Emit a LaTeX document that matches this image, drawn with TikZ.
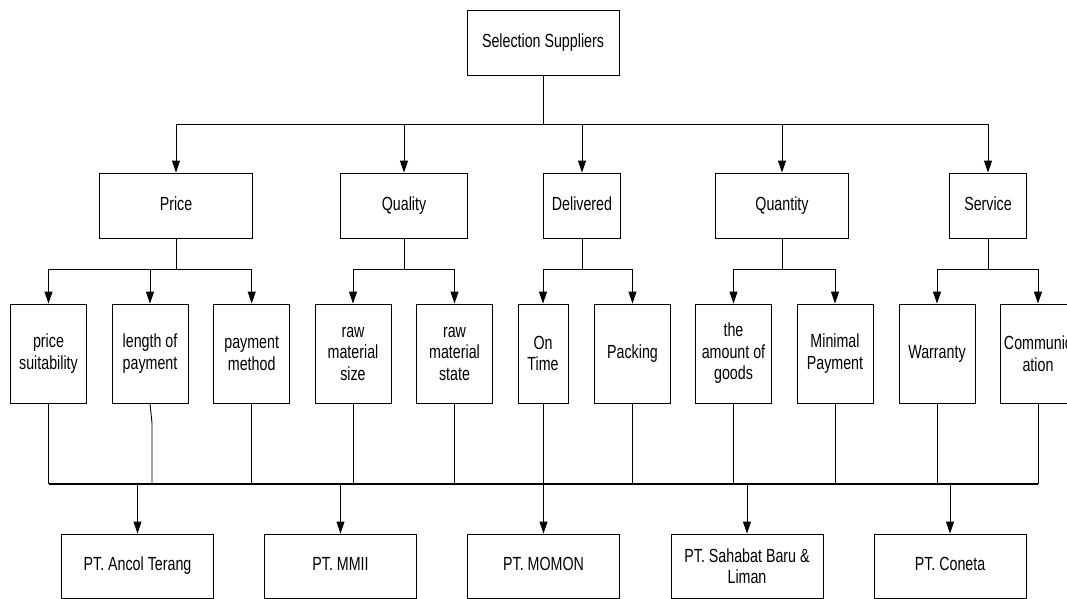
\documentclass[tikz,border=0pt]{standalone}
\usepackage{fontspec}
\setmainfont{Liberation Sans}[FakeStretch=0.75]
\usetikzlibrary{arrows.meta}
\begin{document}
\begin{tikzpicture}[x=1pt,y=-1pt,
  box/.style={draw, line width=0.9pt, rectangle, inner sep=0pt, align=center,
    font=\fontsize{19}{21.5}\selectfont},
  oneline/.style={text height=13.5pt, text depth=4pt},
  crit/.style={box, oneline, minimum height=65},
  sub/.style={box, minimum width=76, minimum height=99},
  supp/.style={box, minimum width=152, minimum height=64},
  conn/.style={line width=0.9pt},
  bus/.style={line width=2pt},
  arr/.style={conn, -{Triangle[width=8pt,length=12pt]}}]
\path[use as bounding box, clip] (0,0) rectangle (1067,599);
\fill[white] (0,0) rectangle (1067,599);
% top
\node[box, oneline, minimum width=152, minimum height=65] (top) at (543,42.5) {Selection Suppliers};
% criteria
\node[crit, minimum width=153] (price) at (176,205.5) {Price};
\node[crit, minimum width=127] (quality) at (404,205.5) {Quality};
\node[crit, minimum width=77] (deliv) at (582,205.5) {Delivered};
\node[crit, minimum width=133] (quant) at (782,205.5) {Quantity};
\node[crit, minimum width=77] (serv) at (988,205.5) {Service};
% sub criteria
\node[sub] (ps) at (48.5,353.5) {price\\suitability};
\node[sub] (lp) at (150,353.5) {length of\\payment};
\node[sub] (pm) at (251.7,353.5) {payment\\method};
\node[sub] (rms) at (353,353.5) {raw\\material\\size};
\node[sub] (rmt) at (454.5,353.5) {raw\\material\\state};
\node[sub, minimum width=50] (ot) at (543,353.5) {On\\Time};
\node[sub, oneline] (pk) at (632.5,353.5) {Packing};
\node[sub] (ag) at (733.5,353.5) {the\\amount of\\goods};
\node[sub] (mp) at (835,353.5) {Minimal\\Payment};
\node[sub, oneline] (wa) at (937,353.5) {Warranty};
\node[sub] (co) at (1038,353.5) {Communic\\ation};
% suppliers
\node[supp, oneline] (s1) at (137.5,566) {PT. Ancol Terang};
\node[supp, oneline] (s2) at (340.5,566) {PT. MMII};
\node[supp, oneline] (s3) at (543.5,566) {PT. MOMON};
\node[supp] (s4) at (747,566) {PT. Sahabat Baru \&\\Liman};
\node[supp, oneline] (s5) at (950,566) {PT. Coneta};
% level coordinates
\coordinate (L1) at (0,124);
\coordinate (L2) at (0,269);
\coordinate (L3) at (0,484);
% top to criteria
\draw[conn] (top.south) -- (top.south |- L1);
\draw[conn] (price.north |- L1) -- (serv.north |- L1);
\foreach \n in {price,quality,deliv,quant,serv}
  \draw[arr] (\n.north |- L1) -- (\n.north);
% criteria to sub criteria
\foreach \c/\a/\b in {price/ps/pm, quality/rms/rmt, deliv/ot/pk, quant/ag/mp, serv/wa/co}{
  \draw[conn] (\c.south) -- (\c.south |- L2);
  \draw[conn] (\a.north |- L2) -- (\b.north |- L2);
}
\foreach \n in {ps,lp,pm,rms,rmt,ot,pk,ag,mp,wa,co}
  \draw[arr] (\n.north |- L2) -- (\n.north);
% sub criteria to bus
\foreach \n in {ps,pm,rms,rmt,ot,pk,ag,mp,wa,co}
  \draw[conn] (\n.south) -- (\n.south |- L3);
\coordinate (lk) at (152,423);
\draw[conn] (lp.south) -- (lk) -- (lk |- L3);
\draw[bus] (ps.south |- L3) -- (co.south |- L3);
% bus to suppliers
\foreach \n in {s1,s2,s3,s4,s5}
  \draw[arr] (\n.north |- L3) -- (\n.north);
\end{tikzpicture}
\end{document}
